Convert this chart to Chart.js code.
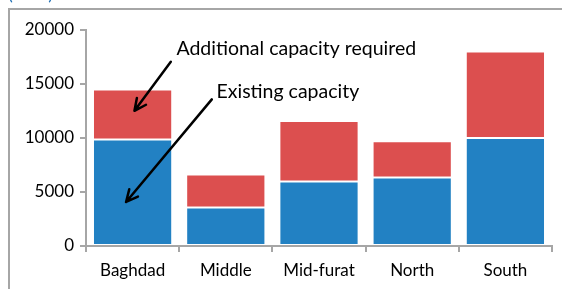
<!DOCTYPE html>
<html>
<head>
<meta charset="utf-8">
<script src="https://cdn.jsdelivr.net/npm/chart.js@4/dist/chart.umd.min.js"></script>
<style>
  html, body { margin: 0; padding: 0; background: #fff; }
  #wrap { width: 562px; height: 289px; }
</style>
</head>
<body>
<div id="wrap"><canvas id="cap" width="562" height="289"></canvas></div>
<script>
const categories = ['Baghdad', 'Middle', 'Mid-furat', 'North', 'South'];
const existing   = [9870, 3560, 5970, 6350, 10000];
const additional = [4630, 3060, 5600, 3340, 8000];
const yTicks = [0, 5000, 10000, 15000, 20000];

const FONT = 'Lato, "Open Sans", sans-serif';
const AXIS_GRAY = '#a6a6a6';

// callouts, placed in data units (category index, MW)
const callouts = [
    { text: 'Additional capacity required', at: [0.47, 17700], from: [0.41, 17050], to: [0.02, 12520] },
    { text: 'Existing capacity', at: [0.90, 13700], from: [0.85, 13580], to: [-0.07, 4080] }
];

function arrow(ctx, x1, y1, x2, y2) {
    const a = Math.atan2(y2 - y1, x2 - x1);
    const h = 13, w = 0.45;
    ctx.beginPath();
    ctx.moveTo(x1, y1);
    ctx.lineTo(x2, y2);
    ctx.moveTo(x2 - h * Math.cos(a - w), y2 - h * Math.sin(a - w));
    ctx.lineTo(x2, y2);
    ctx.lineTo(x2 - h * Math.cos(a + w), y2 - h * Math.sin(a + w));
    ctx.stroke();
}

const decor = {
    id: 'decor',
    beforeDraw(chart) {
        const ctx = chart.ctx;
        ctx.save();
        // outer frame, cut off at right and bottom
        ctx.strokeStyle = AXIS_GRAY;
        ctx.lineWidth = 2;
        ctx.strokeRect(9, 9, 600, 400);
        // unit label, mostly above the crop
        ctx.fillStyle = '#1f6fb4';
        ctx.font = '18px ' + FONT;
        ctx.textBaseline = 'alphabetic';
        ctx.fillText('(MW)', 8, 0);
        ctx.restore();
    },
    afterDraw(chart) {
        const ctx = chart.ctx;
        const xs = chart.scales.x, ys = chart.scales.y;
        ctx.save();
        ctx.fillStyle = '#000';
        ctx.strokeStyle = '#000';
        ctx.lineWidth = 2.5;
        ctx.lineCap = 'round';
        ctx.lineJoin = 'round';
        ctx.font = '19.5px ' + FONT;
        ctx.textBaseline = 'alphabetic';
        callouts.forEach(c => {
            ctx.fillText(c.text, xs.getPixelForValue(c.at[0]), ys.getPixelForValue(c.at[1]));
            arrow(ctx,
                xs.getPixelForValue(c.from[0]), ys.getPixelForValue(c.from[1]),
                xs.getPixelForValue(c.to[0]), ys.getPixelForValue(c.to[1]));
        });
        ctx.restore();
    }
};

new Chart(document.getElementById('cap'), {
    type: 'bar',
    data: {
        labels: categories,
        datasets: [
            {
                label: 'Existing capacity',
                data: existing,
                backgroundColor: '#2281c3',
                borderColor: 'rgba(255,255,255,0.3)',
                borderWidth: 1,
                borderSkipped: false,
                barPercentage: 0.85,
                categoryPercentage: 1
            },
            {
                label: 'Additional capacity required',
                data: additional,
                backgroundColor: '#dc4f4f',
                borderColor: 'rgba(255,255,255,0.3)',
                borderWidth: 1,
                borderSkipped: false,
                barPercentage: 0.85,
                categoryPercentage: 1
            }
        ]
    },
    options: {
        responsive: false,
        animation: false,
        layout: { padding: { top: 30, right: 10, left: 0, bottom: 0 } },
        plugins: {
            legend: { display: false },
            tooltip: { enabled: false }
        },
        scales: {
            x: {
                stacked: true,
                afterFit: s => { s.height = 43; },
                border: { color: AXIS_GRAY, width: 2 },
                grid: { offset: true, drawOnChartArea: false, tickLength: 6, color: AXIS_GRAY, lineWidth: 2 },
                ticks: { color: '#000', font: { family: FONT, size: 17 }, padding: 8 }
            },
            y: {
                stacked: true,
                min: yTicks[0],
                max: yTicks[yTicks.length - 1],
                afterFit: s => { s.width = 86; },
                afterBuildTicks: s => { s.ticks = yTicks.map(v => ({ value: v })); },
                border: { color: AXIS_GRAY, width: 2 },
                grid: { drawOnChartArea: false, tickLength: 6, color: AXIS_GRAY, lineWidth: 2 },
                ticks: {
                    color: '#000',
                    font: { family: FONT, size: 17 },
                    padding: 6,
                    callback: v => String(v)
                }
            }
        }
    },
    plugins: [decor]
});
</script>
</body>
</html>
